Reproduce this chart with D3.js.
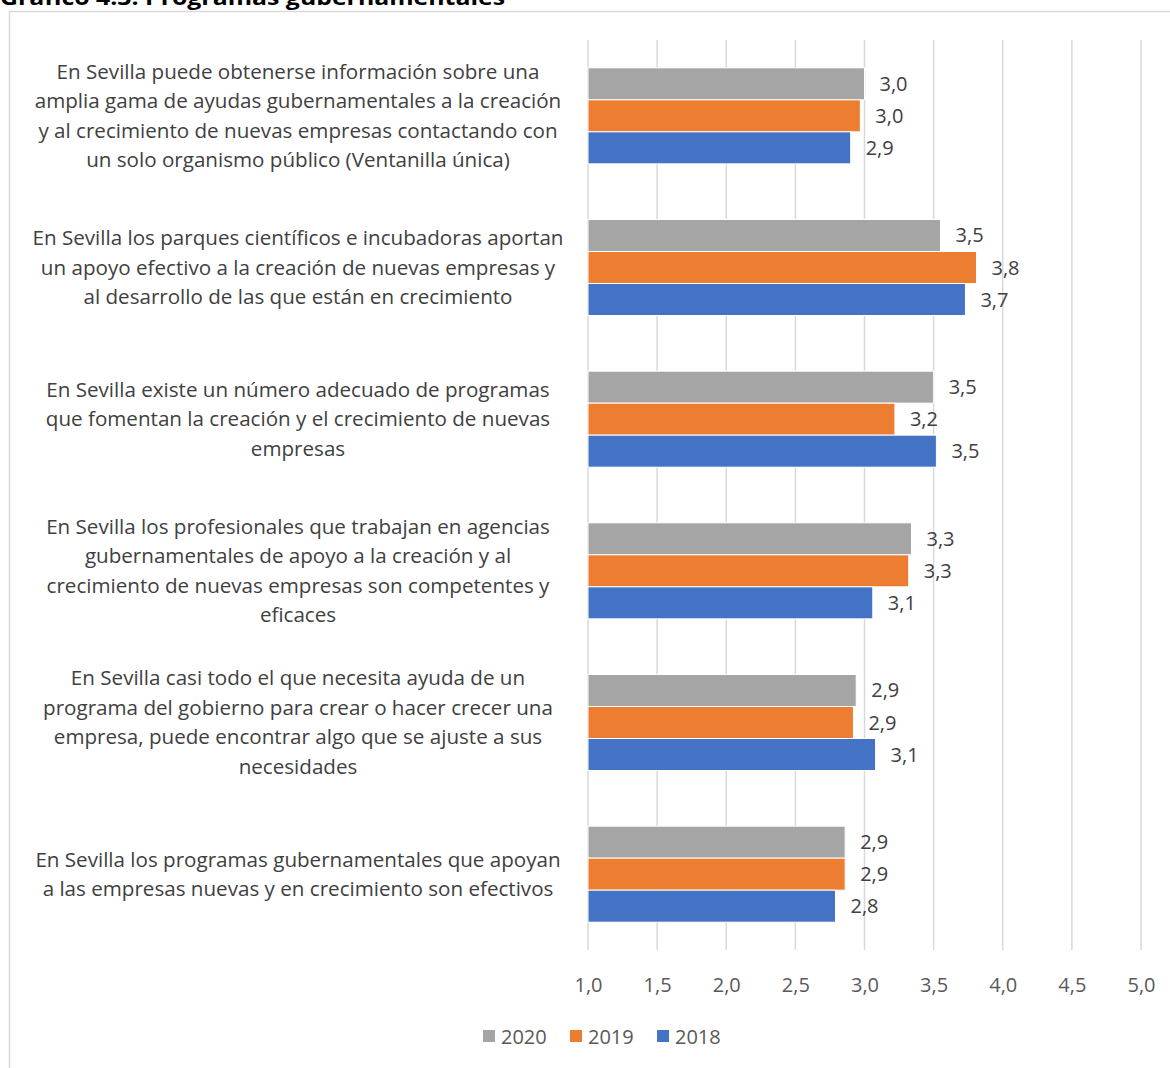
<!DOCTYPE html>
<html><head><meta charset="utf-8">
<script src="https://cdn.jsdelivr.net/npm/d3@7"></script>
<style>body{margin:0;background:#fff}svg{display:block}text{font-family:"Open Sans",sans-serif}</style>
</head><body>
<script>
const categories = [
 ["En Sevilla puede obtenerse información sobre una","amplia gama de ayudas gubernamentales a la creación","y al crecimiento de nuevas empresas contactando con","un solo organismo público (Ventanilla única)"],
 ["En Sevilla los parques científicos e incubadoras aportan","un apoyo efectivo a la creación de nuevas empresas y","al desarrollo de las que están en crecimiento"],
 ["En Sevilla existe un número adecuado de programas","que fomentan la creación y el crecimiento de nuevas","empresas"],
 ["En Sevilla los profesionales que trabajan en agencias","gubernamentales de apoyo a la creación y al","crecimiento de nuevas empresas son competentes y","eficaces"],
 ["En Sevilla casi todo el que necesita ayuda de un","programa del gobierno para crear o hacer crecer una","empresa, puede encontrar algo que se ajuste a sus","necesidades"],
 ["En Sevilla los programas gubernamentales que apoyan","a las empresas nuevas y en crecimiento son efectivos"]
];
const seriesNames = ["2020","2019","2018"];
const seriesColors = ["#a5a5a5","#ed7d31","#4472c4"];
const values2020 = [3.00, 3.55, 3.50, 3.34, 2.94, 2.86];
const values2019 = [2.97, 3.81, 3.22, 3.32, 2.92, 2.86];
const values2018 = [2.90, 3.73, 3.52, 3.06, 3.08, 2.79];
const tickValues = [1.0,1.5,2.0,2.5,3.0,3.5,4.0,4.5,5.0];
const title = "Gráfico 4.3: Programas gubernamentales";

const W=1170,H=1068;
const svg=d3.select("body").append("svg").attr("width",W).attr("height",H);
svg.append("rect").attr("x",9.5).attr("y",11.5).attr("width",1200).attr("height",1100)
  .attr("fill","none").attr("stroke","#d9d9d9").attr("stroke-width",1.5);
svg.append("text").attr("x",0).attr("y",5).attr("font-weight","bold").attr("font-size",22)
  .attr("fill","#000").attr("textLength",505).attr("lengthAdjust","spacingAndGlyphs").text(title);

const x=d3.scaleLinear().domain([1,5]).range([588,1141]);
const idx=d3.range(categories.length);
const y=d3.scaleBand().domain(idx).range([40,950]).paddingInner(0.367).paddingOuter(0.1835);
const ys=d3.scaleBand().domain(d3.range(3)).range([0,y.bandwidth()]);
const fmt=v=>d3.format(".1f")(v).replace(".",",");

svg.append("g").selectAll("line").data(tickValues).join("line")
 .attr("x1",d=>x(d)).attr("x2",d=>x(d)).attr("y1",40).attr("y2",950)
 .attr("stroke","#d9d9d9").attr("stroke-width",1.5);

const series=[values2020,values2019,values2018];
series.forEach((vals,s)=>{
  const g=svg.append("g");
  g.selectAll("rect").data(vals).join("rect")
   .attr("x",x(1)).attr("y",(d,i)=>y(i)+ys(s)).attr("width",d=>x(d)-x(1))
   .attr("height",ys.bandwidth()).attr("fill",seriesColors[s]).attr("stroke","#fff").attr("stroke-width",1);
  g.selectAll("text").data(vals).join("text")
   .attr("x",d=>x(d)+15).attr("y",(d,i)=>y(i)+ys(s)+ys.bandwidth()/2).attr("dy","0.35em")
   .attr("font-size",20).attr("fill","#404040").text(d=>fmt(d));
});

const lh=29.5;
categories.forEach((lines,i)=>{
  const cy=y(i)+y.bandwidth()/2;
  const t=svg.append("text").attr("text-anchor","middle").attr("font-size",20.6).attr("fill","#404040");
  lines.forEach((l,k)=>{
    t.append("tspan").attr("x",298).attr("y",cy+(k-(lines.length-1)/2)*lh).attr("dy","0.35em").text(l);
  });
});

const ax=d3.axisBottom(x).tickValues(tickValues).tickSize(0).tickFormat(fmt);
const axg=svg.append("g").attr("transform","translate(0,975)").call(ax);
axg.select(".domain").remove();
axg.selectAll("text").attr("font-size",20).attr("fill","#595959").attr("font-family","Open Sans");

const lx=[483,570,657];
seriesNames.forEach((n,s)=>{
  svg.append("rect").attr("x",lx[s]).attr("y",1030).attr("width",12).attr("height",12).attr("fill",seriesColors[s]);
  svg.append("text").attr("x",lx[s]+18).attr("y",1037).attr("dy","0.35em").attr("font-size",20).attr("fill","#595959").text(n);
});
</script>
</body></html>
